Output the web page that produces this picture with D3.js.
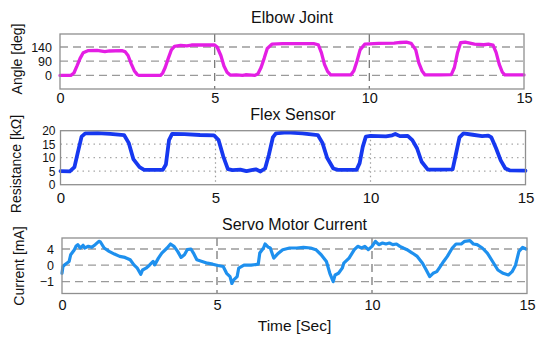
<!DOCTYPE html>
<html>
<head>
<meta charset="utf-8">
<script src="https://cdn.jsdelivr.net/npm/d3@7"></script>
<style>
  html, body { margin: 0; padding: 0; background: #fff; }
  svg { display: block; font-family: "Liberation Sans", Arial, sans-serif; }
</style>
</head>
<body>
<svg id="chart" width="550" height="345"></svg>
<script>
// ---------------- DATA ----------------
const timeTicks = [0, 5, 10, 15];
const angleTicks = [0, 90, 140];
const resistanceTicks = [0, 5, 10, 15, 20];
const currentTicks = [-1, 0, 4];
const titles = ["Elbow Joint", "Flex Sensor", "Servo Motor Current"];
const yLabels = ["Angle [deg]", "Resistance [k\u03A9]", "Current [mA]"];
const xLabel = "Time [Sec]";

// [time (s), angle (deg)]
const elbowAngle = [
  [0,0],[0.35,0],[0.45,15],[0.55,60],[0.65,100],[0.75,120],[0.9,127],[1.2,128],[1.45,124],[1.6,126],
  [2.0,127],[2.1,124],[2.2,110],[2.3,75],[2.4,30],[2.5,5],[2.55,0],[3.25,0],[3.32,15],[3.4,50],
  [3.5,100],[3.6,130],[3.7,142],[3.9,146],[4.1,144],[4.25,147],[4.6,147],[5.0,147],[5.08,140],[5.2,110],
  [5.3,60],[5.4,20],[5.5,2],[5.7,3],[5.9,0],[6.0,4],[6.2,2],[6.3,0],[6.4,10],[6.5,50],
  [6.6,100],[6.7,135],[6.85,150],[7.2,152],[8.2,152],[8.35,148],[8.45,120],[8.55,70],[8.65,25],[8.75,3],
  [9.0,3],[9.4,3],[9.5,30],[9.6,90],[9.7,130],[9.85,150],[10.3,153],[10.8,154],[11.0,156],[11.2,157],
  [11.35,153],[11.5,130],[11.6,80],[11.7,30],[11.8,3],[12.3,3],[12.65,5],[12.75,50],[12.85,120],[12.95,155],
  [13.1,157],[13.4,150],[13.7,148],[13.85,150],[14.0,147],[14.1,120],[14.2,70],[14.3,20],[14.38,3],[15,3]
];

// [time (s), resistance (kOhm)]
const flexResistance = [
  [0,5],[0.3,4.9],[0.45,6.5],[0.55,11.5],[0.68,17.8],[0.8,19.0],[1.2,19.1],[1.6,18.8],[2.05,18.4],[2.2,15.5],
  [2.35,9.5],[2.55,6.5],[2.7,5.5],[3.3,5.5],[3.4,7.5],[3.5,16.5],[3.6,18.8],[4.0,18.7],[4.5,18.4],[4.95,18.3],
  [5.1,16.5],[5.25,10.5],[5.4,5.8],[5.55,5.4],[5.8,5.6],[6.0,5.0],[6.2,5.5],[6.3,5.7],[6.45,4.9],[6.6,6.0],
  [6.72,11],[6.85,17.5],[6.95,19.0],[7.3,19.4],[7.8,19.0],[8.3,18.4],[8.45,15.5],[8.6,10],[8.8,6.0],[8.95,5.5],
  [9.55,5.5],[9.65,8],[9.75,14],[9.85,17.8],[10.0,18.1],[10.5,17.9],[10.7,18.3],[10.8,18.8],[10.95,18.0],[11.2,18.1],
  [11.35,16.5],[11.5,13.5],[11.65,8.5],[11.85,5.6],[12.3,5.6],[12.65,5.7],[12.75,11],[12.87,17.5],[13.0,19.0],[13.3,18.5],
  [13.6,18.0],[13.8,18.2],[13.9,17.5],[14.05,13.5],[14.2,9],[14.35,6],[14.5,5.3],[15,5.2]
];

// [time (s), current (mA)]
const servoCurrent = [
  [0,-0.49],[0.03,-0.08],[0.11,0.25],[0.23,0.92],[0.28,2.58],[0.40,3.83],[0.45,4.67],[0.51,5.08],[0.59,4.25],[0.68,4.92],
  [0.73,4.25],[0.85,4.67],[0.96,4.42],[1.07,5.08],[1.19,5.92],[1.24,5.75],[1.36,4.25],[1.52,3.42],[1.69,2.75],[1.86,2.17],
  [2.03,1.92],[2.20,1.33],[2.32,0.08],[2.43,-0.18],[2.54,-0.55],[2.60,-0.29],[2.71,-0.18],[2.82,0],[2.94,0.92],[2.99,0.08],
  [3.11,1.75],[3.22,3.0],[3.39,4.25],[3.50,5.25],[3.61,4.67],[3.73,3.42],[3.84,1.92],[3.95,2.58],[4.04,3.83],[4.16,4.0],
  [4.24,3.0],[4.35,1.33],[4.52,0.92],[4.69,0.5],[4.86,0.25],[5.03,-0.02],[5.20,-0.08],[5.31,-0.49],[5.42,-0.69],[5.48,-1.1],
  [5.53,-0.9],[5.65,-0.69],[5.70,-0.18],[5.87,0],[6.10,0],[6.33,0.25],[6.38,3.0],[6.50,4.25],[6.55,5.25],[6.66,4.42],
  [6.72,4.25],[6.83,1.75],[6.95,2.75],[7.12,3.83],[7.34,4.25],[7.57,4.25],[7.79,4.42],[8.02,4.25],[8.19,3.83],[8.36,2.58],
  [8.53,0.92],[8.64,-0.49],[8.75,-1.0],[8.81,-0.59],[8.92,-0.49],[9.04,-0.18],[9.09,0.5],[9.26,1.75],[9.43,3.83],[9.54,4.67],
  [9.66,4.25],[9.77,4.67],[9.88,3.83],[10.0,4.67],[10.11,5.92],[10.22,5.08],[10.34,5.5],[10.45,5.25],[10.56,5.5],[10.67,5.08],
  [10.79,5.25],[10.90,4.67],[11.01,4.25],[11.13,3.83],[11.30,3.0],[11.46,2.17],[11.63,0.5],[11.75,-0.29],[11.86,-0.69],[11.97,-0.49],
  [12.09,-0.39],[12.20,-0.08],[12.31,0.92],[12.43,2.17],[12.59,4.25],[12.71,5.25],[12.88,5.25],[12.99,5.92],[13.16,6.08],[13.27,5.25],
  [13.39,5.08],[13.56,4.25],[13.72,3.0],[13.89,0.92],[14.06,-0.29],[14.23,-0.49],[14.40,-0.59],[14.52,-0.39],[14.63,0],[14.74,3.42],
  [14.86,4.42],[14.97,4.0]
];

// ---------------- LAYOUT ----------------
const svg = d3.select("#chart");
const FONT = '"Liberation Sans", Arial, sans-serif';

const panels = [
  {
    data: elbowAngle, ticks: angleTicks, title: titles[0], ylab: yLabels[0],
    x: d3.scaleLinear().domain([0, 15]).range([60, 524]),
    // tick labels are equally spaced although the values are not -> piecewise scale
    y: d3.scaleLinear().domain([-86, 0, 90, 140, 186]).range([89, 75.4, 61.2, 47, 34]),
    top: 34, bottom: 89, color: "#e41ee4", width: 3.3,
    grid: "8,5", vgrid: "8,5",
    yTickX: 52, yTickSize: 12.5, xTickSize: 14.5, xTickY: 103,
    titleY: 23, ylabX: 22, ylabY: 59
  },
  {
    data: flexResistance, ticks: resistanceTicks, title: titles[1], ylab: yLabels[1],
    x: d3.scaleLinear().domain([0, 15]).range([60.5, 525.5]),
    y: d3.scaleLinear().domain([0, 20]).range([184.7, 130.7]),
    top: 130.7, bottom: 184.7, color: "#1638f0", width: 3.8,
    grid: "1.5,4", vgrid: "1.5,3",
    yTickX: 55.5, yTickSize: 12, xTickSize: 15, xTickY: 203,
    titleY: 120, ylabX: 21, ylabY: 164
  },
  {
    data: servoCurrent, ticks: currentTicks, title: titles[2], ylab: yLabels[2],
    x: d3.scaleLinear().domain([0, 15]).range([62, 527]),
    y: d3.scaleLinear().domain([-1.66, -1, 0, 4, 6.75]).range([293.5, 281.7, 265.2, 249, 238]),
    top: 238, bottom: 293.5, color: "#1e90ee", width: 3.2,
    grid: "8,5", vgrid: "8,5",
    yTickX: 54, yTickSize: 12.5, xTickSize: 14.5, xTickY: 310,
    titleY: 230, ylabX: 24, ylabY: 266
  }
];

panels.forEach((p, i) => {
  const g = svg.append("g");
  const [xl, xr] = p.x.range();

  // horizontal grid lines (excluding box edges)
  const inner = p.ticks.filter(v => Math.abs(p.y(v) - p.top) > 1 && Math.abs(p.y(v) - p.bottom) > 1);
  g.selectAll(".hg").data(inner).join("line")
    .attr("x1", xl).attr("x2", xr)
    .attr("y1", d => p.y(d)).attr("y2", d => p.y(d))
    .attr("stroke", i === 1 ? "#a8a8a8" : "#9a9a9a")
    .attr("stroke-width", i === 1 ? 1.2 : 1.3)
    .attr("stroke-dasharray", p.grid);

  // vertical grid lines
  const vin = timeTicks.filter(t => t > 0 && t < 15);
  g.selectAll(".vg").data(vin).join("line")
    .attr("x1", d => p.x(d)).attr("x2", d => p.x(d))
    .attr("y1", p.top).attr("y2", p.bottom)
    .attr("stroke", i === 1 ? "#a0a0a0" : "#7a7a7a")
    .attr("stroke-width", i === 1 ? 1.2 : 1.3)
    .attr("stroke-dasharray", p.vgrid);

  // data line
  const line = d3.line().x(d => p.x(d[0])).y(d => p.y(d[1])).curve(d3.curveLinear);
  g.append("path").datum(p.data)
    .attr("d", line)
    .attr("fill", "none")
    .attr("stroke", p.color)
    .attr("stroke-width", p.width)
    .attr("stroke-linejoin", "round")
    .attr("stroke-linecap", "round");

  // plot box
  g.append("rect")
    .attr("x", xl).attr("y", p.top)
    .attr("width", xr - xl).attr("height", p.bottom - p.top)
    .attr("fill", "none").attr("stroke", "#8f8f8f").attr("stroke-width", 1.3);

  // x axis tick labels
  const xa = d3.axisBottom(p.x).tickValues(timeTicks).tickSize(0).tickPadding(0).tickFormat(d3.format("d"));
  const xg = g.append("g").attr("transform", `translate(0,${p.xTickY})`).call(xa);
  xg.select(".domain").remove();
  xg.selectAll("text")
    .attr("dy", null).attr("y", 0)
    .attr("font-size", p.xTickSize).attr("fill", "#111")
    .style("font-family", FONT);

  // y axis tick labels
  const ya = d3.axisLeft(p.y).tickValues(p.ticks).tickSize(0).tickPadding(0).tickFormat(d3.format("d"));
  const yg = g.append("g").attr("transform", `translate(${p.yTickX},0)`).call(ya);
  yg.select(".domain").remove();
  yg.selectAll("text")
    .attr("font-size", p.yTickSize).attr("fill", "#111")
    .style("font-family", FONT);

  // title
  g.append("text")
    .attr("x", (xl + xr) / 2).attr("y", p.titleY)
    .attr("text-anchor", "middle")
    .attr("font-size", 16).attr("fill", "#111")
    .text(p.title);

  // y label
  g.append("text")
    .attr("transform", `translate(${p.ylabX},${p.ylabY}) rotate(-90)`)
    .attr("text-anchor", "middle")
    .attr("font-size", 14).attr("fill", "#111")
    .text(p.ylab);
});

// x label
const last = panels[2];
svg.append("text")
  .attr("x", (last.x.range()[0] + last.x.range()[1]) / 2).attr("y", 331)
  .attr("text-anchor", "middle")
  .attr("font-size", 15.5).attr("fill", "#111")
  .text(xLabel);
</script>
</body>
</html>
